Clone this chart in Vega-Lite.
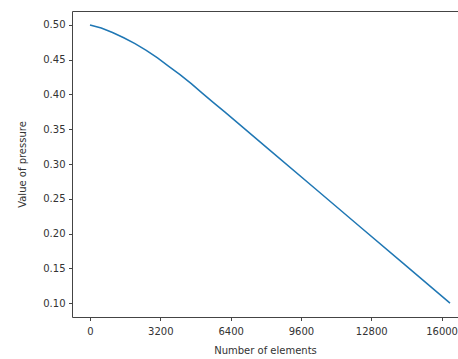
{
  "$schema": "https://vega.github.io/schema/vega-lite/v6.json",
  "autosize": {"type": "none"},
  "padding": {"left": 72, "top": 11, "right": 0, "bottom": 42},
  "width": 386,
  "height": 306,
  "background": "white",
  "config": {
    "view": {"stroke": null},
    "axis": {
      "labelFont": "DejaVu Sans",
      "titleFont": "DejaVu Sans",
      "labelFontSize": 10,
      "titleFontSize": 10,
      "titleFontWeight": "normal",
      "labelColor": "#333333",
      "titleColor": "#333333",
      "domainColor": "#444444",
      "tickColor": "#444444",
      "domainWidth": 1,
      "tickWidth": 1,
      "tickSize": 3.5,
      "grid": false
    }
  },
  "data": {
    "values": [
      {"n": 0, "p": 0.5},
      {"n": 512, "p": 0.4955},
      {"n": 1024, "p": 0.489},
      {"n": 1536, "p": 0.4815},
      {"n": 2048, "p": 0.473},
      {"n": 2560, "p": 0.4635},
      {"n": 3072, "p": 0.4525},
      {"n": 3584, "p": 0.4405},
      {"n": 4096, "p": 0.4285},
      {"n": 4608, "p": 0.4155},
      {"n": 5120, "p": 0.4015},
      {"n": 5632, "p": 0.388},
      {"n": 6144, "p": 0.3745},
      {"n": 8192, "p": 0.3196},
      {"n": 10240, "p": 0.2647},
      {"n": 12288, "p": 0.2098},
      {"n": 14336, "p": 0.1549},
      {"n": 16384, "p": 0.1}
    ]
  },
  "layer": [
    {
      "mark": {"type": "line", "color": "#1f77b4", "strokeWidth": 1.5, "clip": true},
      "encoding": {
        "x": {
          "field": "n", "type": "quantitative",
          "scale": {"domain": [-819.2, 16748], "nice": false, "zero": false},
          "axis": {
            "title": "Number of elements",
            "values": [0, 3200, 6400, 9600, 12800, 16000],
            "format": "d",
            "labelPadding": 5.5,
            "titlePadding": 9,
            "labelFlush": false,
            "labelOverlap": false
          }
        },
        "y": {
          "field": "p", "type": "quantitative",
          "scale": {"domain": [0.08, 0.52], "nice": false, "zero": false},
          "axis": {
            "title": "Value of pressure",
            "values": [0.1, 0.15, 0.2, 0.25, 0.3, 0.35, 0.4, 0.45, 0.5],
            "format": ".2f",
            "labelPadding": 3.5,
            "titlePadding": 15
          }
        }
      }
    },
    {
      "mark": {"type": "line", "strokeOpacity": 0},
      "encoding": {
        "x": {
          "field": "n", "type": "quantitative",
          "axis": {"orient": "top", "title": null, "labels": false, "ticks": false, "domain": true}
        }
      }
    }
  ],
  "resolve": {"axis": {"x": "independent"}}
}
